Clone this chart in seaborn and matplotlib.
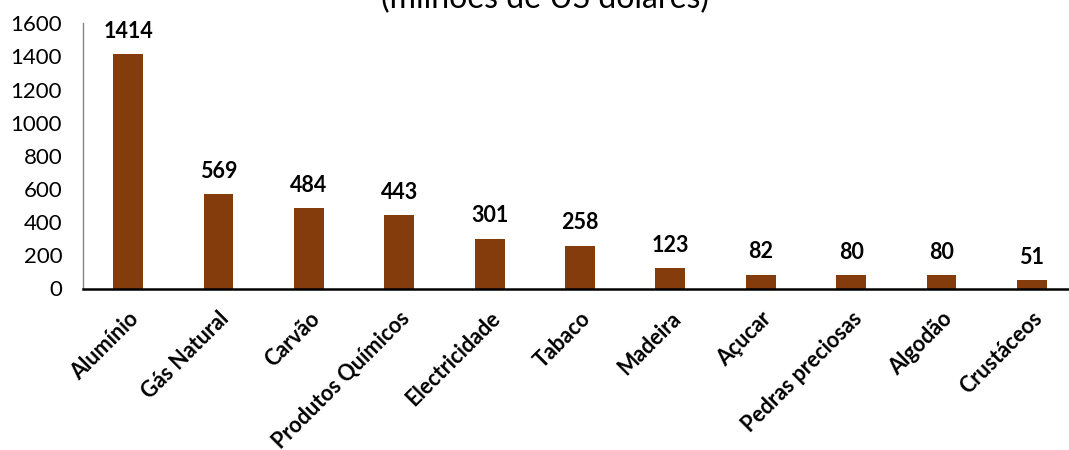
import numpy as np
import pandas as pd
import matplotlib
matplotlib.use("Agg")
import matplotlib.pyplot as plt
import seaborn as sns

produtos = ["Alumínio", "Gás Natural", "Carvão", "Produtos Químicos", "Electricidade",
            "Tabaco", "Madeira", "Açucar", "Pedras preciosas", "Algodão", "Crustáceos"]
valores = [1414, 569, 484, 443, 301, 258, 123, 82, 80, 80, 51]
y_ticks = [0, 200, 400, 600, 800, 1000, 1200, 1400, 1600]
subtitulo = "(milhões de US dólares)"

sns.set_theme(style="white")
plt.rcParams["font.family"] = ["Lato", "DejaVu Sans"]

df = pd.DataFrame({"produto": produtos, "valor": valores})

fig = plt.figure(figsize=(10.69, 4.5), dpi=100)
ax = fig.add_axes([83 / 1069, 1 - 288.5 / 450, 994 / 1069, (288.5 - 23.3) / 450])

sns.barplot(data=df, x="produto", y="valor", order=produtos, color="#843C0C",
            saturation=1, width=0.33, ax=ax, edgecolor="none")

ax.set_xlim(-0.5, len(produtos) - 0.5)
ax.set_ylim(0, 1600)
ax.set_yticks(y_ticks)
ax.set_yticklabels([str(t) for t in y_ticks], fontsize=16, color="black")
ax.set_xlabel("")
ax.set_ylabel("")

# category labels at bar centres, tick marks at category boundaries
ax.set_xticks(range(len(produtos)))
ax.set_xticklabels(produtos, rotation=45, ha="right", rotation_mode="anchor",
                   fontsize=15.5, fontweight="bold", color="black")
ax.tick_params(axis="x", which="major", length=0, pad=14)
ax.set_xticks(np.arange(-0.5, len(produtos)), minor=True)
ax.tick_params(axis="x", which="minor", length=5, width=1.2, color="black", direction="out")
ax.tick_params(axis="y", which="major", length=6, width=1, color="#868686", direction="out", pad=9)

for s in ["top", "right"]:
    ax.spines[s].set_visible(False)
ax.spines["left"].set_color("#868686")
ax.spines["left"].set_linewidth(1)
ax.spines["bottom"].set_color("black")
ax.spines["bottom"].set_linewidth(1.8)

for i, v in enumerate(valores):
    ax.annotate(str(v), (i, v), xytext=(0, 9), textcoords="offset points",
                ha="center", va="bottom", fontsize=15.5, fontweight="bold", color="black")

fig.text(545 / 1069, 1 - 14 / 450, subtitulo, ha="center", va="bottom",
         fontsize=23, color="black")

fig.savefig("out.png", dpi=100)
